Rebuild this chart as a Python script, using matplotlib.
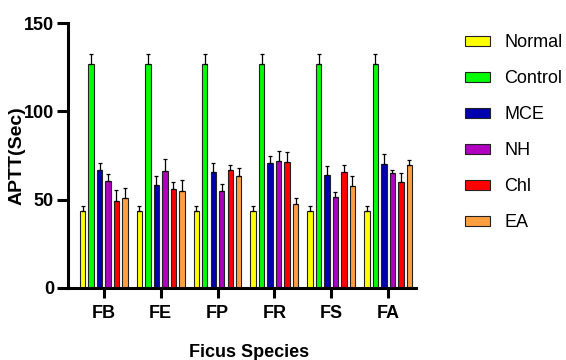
import numpy as np
import matplotlib.pyplot as plt

plt.rcParams['font.family'] = ['Liberation Sans', 'DejaVu Sans']

species = ['FB', 'FE', 'FP', 'FR', 'FS', 'FA']
groups = ['Normal', 'Control', 'MCE', 'NH', 'Chl', 'EA']
colors = ['#FFFF00', '#00FF00', '#0000B0', '#B000C0', '#FF0000', '#FF9F40']

normal = [43.4, 43.4, 43.4, 43.4, 43.4, 43.4]
control = [126.8, 126.8, 126.8, 126.8, 126.8, 126.8]
mce = [67.0, 58.5, 65.4, 70.7, 64.1, 70.2]
nh = [60.3, 66.4, 55.1, 72.0, 51.5, 65.1]
chl = [49.4, 56.0, 67.0, 71.5, 65.4, 59.8]
ea = [50.9, 55.1, 63.6, 47.3, 57.9, 69.4]

normal_err = [3.2, 3.2, 3.2, 3.2, 3.2, 3.2]
control_err = [5.8, 5.8, 5.8, 5.8, 5.8, 5.8]
mce_err = [3.8, 4.7, 5.3, 3.8, 4.9, 5.5]
nh_err = [4.3, 6.6, 4.0, 5.7, 2.6, 1.9]
chl_err = [6.2, 4.0, 2.5, 5.7, 4.0, 5.5]
ea_err = [5.7, 6.2, 4.3, 3.6, 5.3, 3.2]

values = [normal, control, mce, nh, chl, ea]
errors = [normal_err, control_err, mce_err, nh_err, chl_err, ea_err]

fig = plt.figure(figsize=(5.66, 3.6), dpi=100)
ax = fig.add_axes([0.120, 0.200, 0.615, 0.736])

x = np.arange(len(species))
slot = 0.149
width = 0.095
for i, (name, vals, errs, c) in enumerate(zip(groups, values, errors, colors)):
    pos = x + (i - 2.5) * slot
    ax.bar(pos, vals, width, color=c, edgecolor='#222222', linewidth=0.8,
           label=name, zorder=2)
    ax.errorbar(pos, vals, yerr=[np.zeros(len(errs)), errs], fmt='none',
                ecolor='black', elinewidth=0.9, capsize=1.5, capthick=0.9, zorder=3)

ax.set_xlim(-0.63, 5.49)
ax.set_ylim(0, 150)
ax.set_yticks([0, 50, 100, 150])
ax.set_xticks(x)
ax.set_xticklabels(species)

for s in ['top', 'right']:
    ax.spines[s].set_visible(False)
for s in ['left', 'bottom']:
    ax.spines[s].set_linewidth(2.2)
ax.tick_params(axis='x', width=2.2, length=7, labelsize=13, pad=5.5)
ax.tick_params(axis='y', width=2.2, length=8, labelsize=13, pad=2)
for lab in ax.get_xticklabels() + ax.get_yticklabels():
    lab.set_fontweight('bold')

ax.set_ylabel('APTT(Sec)', fontsize=14, fontweight='bold')
ax.yaxis.set_label_coords(-0.122, 0.5)
ax.set_xlabel('Ficus Species', fontsize=13, fontweight='bold')
ax.xaxis.set_label_coords(0.52, -0.21)
ax.xaxis.label.set_verticalalignment('top')

leg = ax.legend(loc='upper left', bbox_to_anchor=(1.094, 1.019), frameon=False,
                fontsize=13, handlelength=1.38, handleheight=0.47,
                labelspacing=1.05, handletextpad=0.8)

plt.savefig('out.png', dpi=100)
